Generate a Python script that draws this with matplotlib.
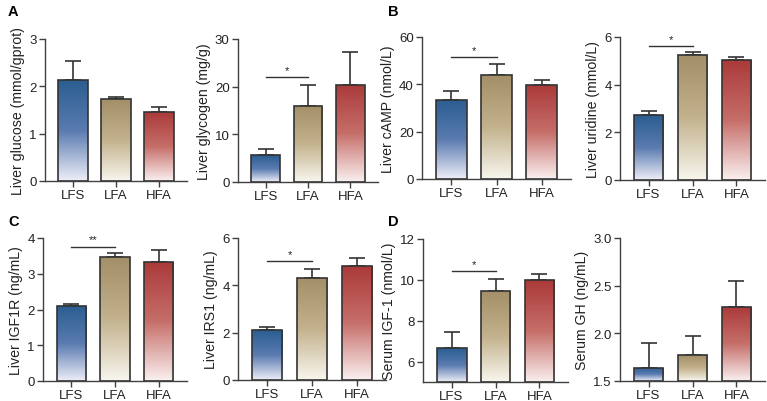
import numpy as np
import matplotlib
matplotlib.use("Agg")
import matplotlib.pyplot as plt
from matplotlib.colors import LinearSegmentedColormap
from matplotlib.patches import Rectangle

plt.rcParams['font.family'] = ['Liberation Sans', 'DejaVu Sans']

groups = ['LFS', 'LFA', 'HFA']

glucose_mean = [2.13, 1.73, 1.45]
glucose_err = [0.40, 0.05, 0.12]
glycogen_mean = [5.6, 16.0, 20.4]
glycogen_err = [1.3, 4.3, 6.9]
camp_mean = [33.2, 43.9, 39.6]
camp_err = [4.0, 4.7, 2.1]
uridine_mean = [2.71, 5.23, 5.02]
uridine_err = [0.18, 0.14, 0.14]
igf1r_mean = [2.09, 3.46, 3.33]
igf1r_err = [0.05, 0.12, 0.33]
irs1_mean = [2.11, 4.31, 4.82]
irs1_err = [0.14, 0.38, 0.33]
igf1_mean = [6.64, 9.44, 9.99]
igf1_err = [0.83, 0.62, 0.28]
gh_mean = [1.64, 1.77, 2.28]
gh_err = [0.26, 0.20, 0.27]

# gradient colours, bottom -> middle -> top
grad_colors = [
    ['#eeeef8', '#5a7bb0', '#2b5e91'],
    ['#f8f6ee', '#c3b28d', '#a38f68'],
    ['#faf0f0', '#c66e69', '#aa3a3a'],
]
cmaps = [LinearSegmentedColormap.from_list('g%d' % i, c) for i, c in enumerate(grad_colors)]

W, H = 767, 402
fig = plt.figure(figsize=(W / 100, H / 100), dpi=100)


def px_axes(left, right, top, bottom):
    return fig.add_axes([left / W, 1 - bottom / H, (right - left) / W, (bottom - top) / H])


edge = '#333333'


def panel(ax, means, errs, ylim, yticks, ylabel, sig=None, fmt=None):
    base = ylim[0]
    width = 0.68
    grad = np.linspace(0, 1, 256).reshape(-1, 1)
    for i, (m, e) in enumerate(zip(means, errs)):
        x0 = i - width / 2
        ax.errorbar(i, m, yerr=[[0], [e]], fmt='none', ecolor=edge,
                    elinewidth=1.2, capsize=5.5, capthick=1.2, zorder=2)
        im = ax.imshow(grad, cmap=cmaps[i], origin='lower', aspect='auto',
                       extent=(x0, x0 + width, base, m), zorder=3)
        rect = Rectangle((x0, base), width, m - base, fill=False,
                         edgecolor=edge, linewidth=1.2, zorder=4)
        ax.add_patch(rect)
        im.set_clip_path(rect)
    ax.set_xlim(-0.65, 2.65)
    ax.set_ylim(*ylim)
    ax.set_yticks(yticks)
    if fmt:
        ax.set_yticklabels([fmt % t for t in yticks])
    ax.set_xticks(range(3))
    ax.set_xticklabels(groups)
    for s in ['top', 'right']:
        ax.spines[s].set_visible(False)
    for s in ['left', 'bottom']:
        ax.spines[s].set_color('#404040')
        ax.spines[s].set_linewidth(1.0)
    ax.tick_params(axis='both', colors='#404040', labelcolor='#222222',
                   length=4, width=1.0, labelsize=9.5, pad=2)
    ax.set_ylabel(ylabel, fontsize=10.2, color='#222222', labelpad=3)
    if sig is not None:
        y, text = sig
        ax.plot([0, 1], [y, y], color='#333333', lw=1.0, clip_on=False)
        ax.annotate(text, (0.5, y), xytext=(0, 1.5), textcoords='offset points',
                    ha='center', va='bottom', fontsize=8, color='#222222')


ax1 = px_axes(45, 187, 40, 182)
panel(ax1, glucose_mean, glucose_err, (0, 3), [0, 1, 2, 3], 'Liver glucose (mmol/gprot)')
ax2 = px_axes(238, 378, 40, 183)
panel(ax2, glycogen_mean, glycogen_err, (0, 30), [0, 10, 20, 30], 'Liver glycogen (mg/g)', (22.0, '*'))
ax3 = px_axes(422, 571, 38, 180)
panel(ax3, camp_mean, camp_err, (0, 60), [0, 20, 40, 60], 'Liver cAMP (nmol/L)', (51.5, '*'))
ax4 = px_axes(620, 765, 38, 181)
panel(ax4, uridine_mean, uridine_err, (0, 6), [0, 2, 4, 6], 'Liver uridine (mmol/L)', (5.61, '*'))
ax5 = px_axes(43, 187, 239, 382)
panel(ax5, igf1r_mean, igf1r_err, (0, 4), [0, 1, 2, 3, 4], 'Liver IGF1R (ng/mL)', (3.76, '**'))
ax6 = px_axes(238, 386, 239, 381)
panel(ax6, irs1_mean, irs1_err, (0, 6), [0, 2, 4, 6], 'Liver IRS1 (ng/mL)', (5.01, '*'))
ax7 = px_axes(423, 568, 240, 383)
panel(ax7, igf1_mean, igf1_err, (5, 12), [6, 8, 10, 12], 'Serum IGF-1 (nmol/L)', (10.45, '*'))
ax8 = px_axes(620, 765, 239, 382)
panel(ax8, gh_mean, gh_err, (1.5, 3.0), [1.5, 2.0, 2.5, 3.0], 'Serum GH (ng/mL)', fmt='%.1f')

for lab, x, y in [('A', 8, 12), ('B', 388, 12), ('C', 8, 222), ('D', 388, 222)]:
    fig.text(x / W, 1 - y / H, lab, fontsize=10.5, fontweight='bold', ha='left', va='center')

fig.savefig('out.png', dpi=100)
